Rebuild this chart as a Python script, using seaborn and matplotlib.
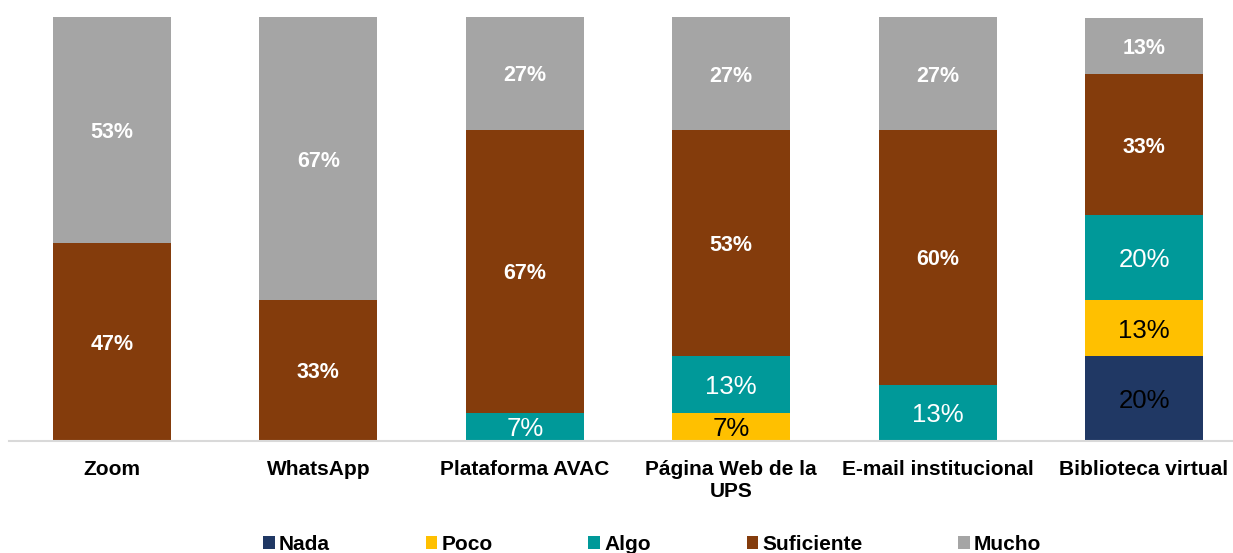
import pandas as pd
import seaborn as sns
import matplotlib.pyplot as plt
from matplotlib.patches import Patch

# share of answers per platform (percent, n = 15)
platforms = ['Zoom', 'WhatsApp', 'Plataforma AVAC', 'Página Web de la\nUPS',
             'E-mail institucional', 'Biblioteca virtual']
nada = [0, 0, 0, 0, 0, 20.0]
poco = [0, 0, 0, 6.7, 0, 13.3]
algo = [0, 0, 6.7, 13.3, 13.3, 20.0]
suficiente = [46.7, 33.3, 66.7, 53.3, 60.0, 33.3]
mucho = [53.3, 66.7, 26.7, 26.7, 26.7, 13.3]

levels = ['Nada', 'Poco', 'Algo', 'Suficiente', 'Mucho']
colors = ['#203864', '#FFC000', '#009999', '#843C0C', '#A5A5A5']
label_color = ['black', 'black', 'white', 'white', 'white']
label_weight = ['normal', 'normal', 'normal', 'bold', 'bold']
label_size = [18.5, 18.5, 18.5, 15.5, 15.5]

df = pd.DataFrame({'Plataforma': platforms, 'Nada': nada, 'Poco': poco,
                   'Algo': algo, 'Suficiente': suficiente, 'Mucho': mucho})
tops = df[levels].cumsum(axis=1)
bottoms = tops - df[levels]

sns.set_style('white')
plt.rcParams['font.family'] = ['Liberation Sans', 'DejaVu Sans']
plt.rcParams['text.color'] = 'black'
plt.rcParams['xtick.color'] = 'black'

fig = plt.figure(figsize=(12.33, 5.53), dpi=100)
ax = fig.add_axes([8.8 / 1233, 0.2025, 1238.4 / 1233, 0.7665])

# stack by drawing the cumulative totals from the top level down
for i in range(len(levels) - 1, -1, -1):
    sns.barplot(x=df['Plataforma'], y=tops[levels[i]], color=colors[i],
                saturation=1, width=0.572, linewidth=0, order=platforms, ax=ax)

for i, lev in enumerate(levels):
    for j in range(len(platforms)):
        v = df[lev][j]
        if v <= 0:
            continue
        ax.text(j, bottoms[lev][j] + v / 2, f'{v:.0f}%', ha='center',
                va='center_baseline', color=label_color[i],
                fontweight=label_weight[i], fontsize=label_size[i])

ax.set_xlim(-0.5, 5.5)
ax.set_ylim(0, 100)
ax.set_xlabel('')
ax.set_ylabel('')
ax.set_yticks([])
ax.tick_params(axis='x', length=0, pad=14, labelsize=15, labelcolor='black')
for lab in ax.get_xticklabels():
    lab.set_fontweight('bold')
for s in ['top', 'left', 'right']:
    ax.spines[s].set_visible(False)
ax.spines['bottom'].set_color('#D9D9D9')
ax.spines['bottom'].set_linewidth(1.5)

handles = [Patch(facecolor=c, edgecolor='none') for c in colors]
fig.legend(handles, levels, loc='center', bbox_to_anchor=(0.529, 0.016), ncol=5,
           frameon=False, handlelength=0.55, handleheight=0.55, handletextpad=0.2,
           columnspacing=4.6, labelcolor='black', prop={'weight': 'bold', 'size': 15})

fig.savefig('out.png', dpi=100)
